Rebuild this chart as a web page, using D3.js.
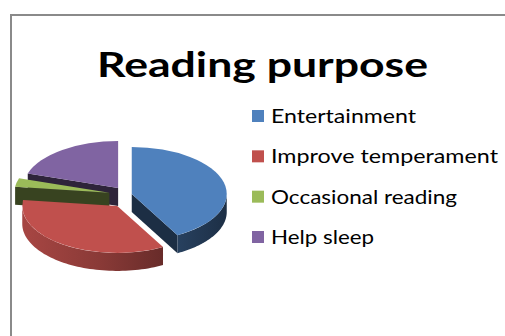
<!DOCTYPE html>
<html>
<head>
<meta charset="utf-8">
<script src="https://cdn.jsdelivr.net/npm/d3@7"></script>
<style>
  html, body { margin: 0; padding: 0; background: #fff; overflow: hidden; }
  svg { display: block; }
</style>
</head>
<body>
<svg id="chart" width="505" height="336"></svg>
<script>
// Reading purpose — share of respondents
const categories = ["Entertainment", "Improve temperament", "Occasional reading", "Help sleep"];
const values = [42, 35, 3, 20];
const colors = ["#4F81BD", "#C0504D", "#9BBB59", "#8064A2"];
const explodeBy = [8, 12, 15, 10];

const svg = d3.select("#chart");
const W = 505, H = 336;

// white chart area
svg.append("rect")
  .attr("x", 0).attr("y", 0)
  .attr("width", W).attr("height", H)
  .attr("fill", "#fff");

// title
svg.append("text")
  .attr("x", 262.5).attr("y", 77)
  .attr("text-anchor", "middle")
  .attr("font-family", "Lato, 'Open Sans', sans-serif")
  .attr("font-weight", "bold")
  .attr("font-size", 35)
  .attr("textLength", 331)
  .attr("lengthAdjust", "spacingAndGlyphs")
  .attr("fill", "#000")
  .text("Reading purpose");

// 3D pie geometry
const cx = 124, cy = 196, rx = 95, ry = 47, depth = 18;
const pie = d3.pie().sort(null).value(d => d);
const arcs = pie(values);

const defs = svg.append("defs");
function shade(c, k) {
  const h = d3.rgb(c);
  return d3.rgb(h.r * k, h.g * k, h.b * k).formatHex();
}
colors.forEach((c, i) => {
  const g = defs.append("linearGradient")
    .attr("id", "side" + i)
    .attr("gradientUnits", "userSpaceOnUse")
    .attr("x1", cx - rx).attr("y1", 0)
    .attr("x2", cx + rx + 10).attr("y2", 0);
  g.append("stop").attr("offset", 0).attr("stop-color", shade(c, 0.86));
  g.append("stop").attr("offset", 0.35).attr("stop-color", shade(c, 0.72));
  g.append("stop").attr("offset", 1).attr("stop-color", shade(c, 0.36));
});

// per-slice centre after exploding along the slice's middle angle
const slices = arcs.map((a, i) => {
  const mid = (a.startAngle + a.endAngle) / 2;
  return {
    ...a, i,
    ox: cx + Math.sin(mid) * explodeBy[i],
    oy: cy - Math.cos(mid) * explodeBy[i]
  };
});

const pt = (s, t) => [s.ox + rx * Math.sin(t), s.oy - ry * Math.cos(t)];
const line = d3.line();

// collect visible side faces
const faces = [];
slices.forEach(s => {
  // outer curved wall: only the front half of the rim is visible
  const t0 = Math.max(s.startAngle, Math.PI / 2);
  const t1 = Math.min(s.endAngle, Math.PI * 1.5);
  if (t1 > t0) {
    const n = 60;
    const top = d3.range(n + 1).map(k => pt(s, t0 + (t1 - t0) * k / n));
    const bot = top.map(p => [p[0], p[1] + depth]).reverse();
    faces.push({
      d: line(top.concat(bot)) + "Z",
      fill: `url(#side${s.i})`,
      z: d3.max(top, p => p[1])
    });
  }
  // radial cut faces
  const wall = t => {
    const p = pt(s, t);
    const pts = [[s.ox, s.oy], p, [p[0], p[1] + depth], [s.ox, s.oy + depth]];
    return {
      d: line(pts) + "Z",
      fill: shade(colors[s.i], 0.36),
      z: (s.oy + p[1]) / 2
    };
  };
  if (Math.sin(s.endAngle) > 1e-6) faces.push(wall(s.endAngle));
  if (Math.sin(s.startAngle) < -1e-6) faces.push(wall(s.startAngle));
});
faces.sort((a, b) => a.z - b.z);

const pieG = svg.append("g");
pieG.selectAll("path.side")
  .data(faces)
  .join("path")
  .attr("class", "side")
  .attr("d", d => d.d)
  .attr("fill", d => d.fill);

// top surfaces: unit-circle arcs squashed into the ellipse
const unitArc = d3.arc().innerRadius(0).outerRadius(1);
pieG.selectAll("path.top")
  .data(slices)
  .join("path")
  .attr("class", "top")
  .attr("transform", d => `translate(${d.ox},${d.oy}) scale(${rx},${ry})`)
  .attr("d", d => unitArc(d))
  .attr("fill", d => colors[d.i]);

// legend
const legendY = d3.scalePoint().domain(categories).range([116, 237]);
const lg = svg.append("g")
  .attr("font-family", "Lato, 'Open Sans', sans-serif")
  .attr("font-size", 19);
const legendWidths = [145, 227, 186, 103];
const item = lg.selectAll("g")
  .data(categories)
  .join("g")
  .attr("transform", d => `translate(252,${legendY(d)})`);
item.append("rect")
  .attr("x", 0).attr("y", -6)
  .attr("width", 12).attr("height", 12)
  .attr("fill", (d, i) => colors[i]);
item.append("text")
  .attr("x", 19).attr("y", 7)
  .attr("fill", "#000")
  .attr("textLength", (d, i) => legendWidths[i])
  .attr("lengthAdjust", "spacingAndGlyphs")
  .text(d => d);

// chart frame: its top and left edges, drawn last
svg.append("path")
  .attr("d", `M11,${H}V15H${W}`)
  .attr("fill", "none")
  .attr("stroke", "#8a8a8a")
  .attr("stroke-width", 2)
  .attr("stroke-linecap", "square");
</script>
</body>
</html>
